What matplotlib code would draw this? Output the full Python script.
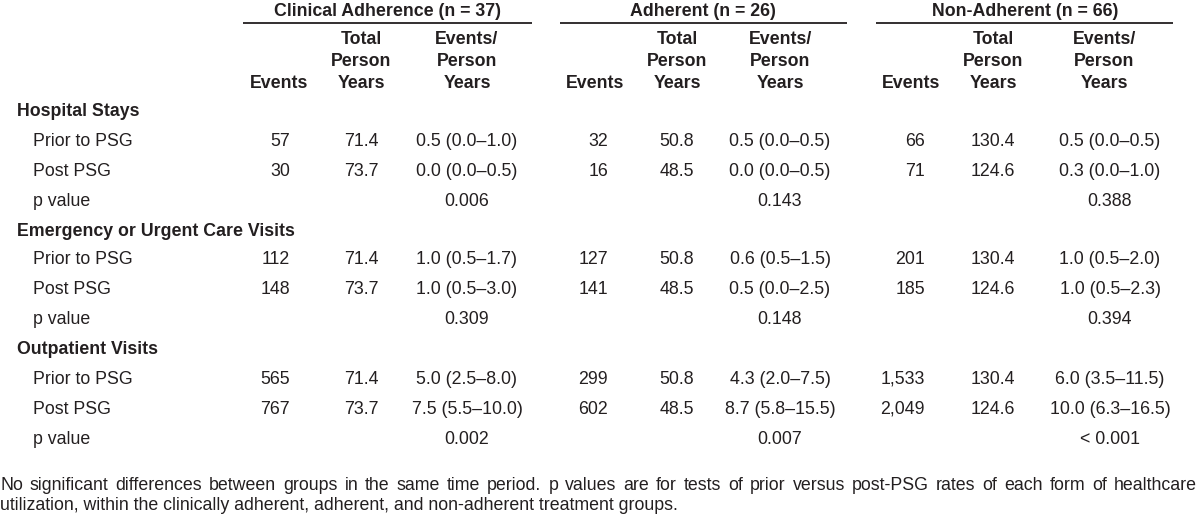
import matplotlib
matplotlib.use('Agg')
import matplotlib.pyplot as plt

# table content
groups = ['Clinical Adherence (n = 37)', 'Adherent (n = 26)', 'Non-Adherent (n = 66)']
sections = ['Hospital Stays', 'Emergency or Urgent Care Visits', 'Outpatient Visits']
sub_rows = ['Prior to PSG', 'Post PSG', 'p value']

clinical_events = [57, 30, 112, 148, 565, 767]
clinical_years = [71.4, 73.7, 71.4, 73.7, 71.4, 73.7]
clinical_rates = ['0.5 (0.0–1.0)', '0.0 (0.0–0.5)', '1.0 (0.5–1.7)',
                  '1.0 (0.5–3.0)', '5.0 (2.5–8.0)', '7.5 (5.5–10.0)']
clinical_p = ['0.006', '0.309', '0.002']

adherent_events = [32, 16, 127, 141, 299, 602]
adherent_years = [50.8, 48.5, 50.8, 48.5, 50.8, 48.5]
adherent_rates = ['0.5 (0.0–0.5)', '0.0 (0.0–0.5)', '0.6 (0.5–1.5)',
                  '0.5 (0.0–2.5)', '4.3 (2.0–7.5)', '8.7 (5.8–15.5)']
adherent_p = ['0.143', '0.148', '0.007']

nonadh_events = [66, 71, 201, 185, 1533, 2049]
nonadh_years = [130.4, 124.6, 130.4, 124.6, 130.4, 124.6]
nonadh_rates = ['0.5 (0.0–0.5)', '0.3 (0.0–1.0)', '1.0 (0.5–2.0)',
                '1.0 (0.5–2.3)', '6.0 (3.5–11.5)', '10.0 (6.3–16.5)']
nonadh_p = ['0.388', '0.394', '< 0.001']

footnote_1 = ('No significant differences between groups in the same time period. '
              'p values are for tests of prior versus post-PSG rates of each form of healthcare')
footnote_2 = ('utilization, within the clinically adherent, adherent, and non-adherent '
              'treatment groups.')

# layout (pixels)
INK = '#231f20'
FS = 12.8
plt.rcParams['font.family'] = ['Liberation Sans', 'DejaVu Sans']

group_data = [
    (clinical_events, clinical_years, clinical_rates, clinical_p),
    (adherent_events, adherent_years, adherent_rates, adherent_p),
    (nonadh_events, nonadh_years, nonadh_rates, nonadh_p),
]
title_x = [387, 703, 1025]
rule_x = [(243, 532), (560, 847), (876, 1173)]
ev_head_x = [308, 624, 940]
ev_x = [290, 608, 925]
yrs_x = [361, 677, 993]
rate_head_x = [467, 780, 1104]
rate_x = [467, 780, 1110]

row_y = [110, 140, 170, 199, 229, 258, 288, 318, 347, 377, 407, 437]
base = 6.5

fig = plt.figure(figsize=(12, 5.21), dpi=100)
ax = fig.add_axes([0, 0, 1, 1])
ax.set_xlim(0, 1200)
ax.set_ylim(521, 0)
ax.axis('off')


def txt(x, y, s, ha='left', bold=False):
    return ax.text(x, y + base, s, ha=ha, va='baseline', fontsize=FS, color=INK,
                   fontweight='bold' if bold else 'normal')


# header
for g in range(3):
    txt(title_x[g], 10, groups[g], ha='center', bold=True)
    ax.plot(rule_x[g], [23, 23], color=INK, lw=1.3, solid_capstyle='butt')
    txt(ev_head_x[g], 81, 'Events', ha='right', bold=True)
    for y, s in zip([38, 60, 81], ['Total', 'Person', 'Years']):
        txt(yrs_x[g], y, s, ha='center', bold=True)
    for y, s in zip([38, 60, 81], ['Events/', 'Person', 'Years']):
        txt(rate_head_x[g], y, s, ha='center', bold=True)

# body
for si, sec in enumerate(sections):
    y0 = row_y[si * 4]
    txt(17, y0, sec, bold=True)
    for ri, lab in enumerate(sub_rows):
        y = row_y[si * 4 + ri + 1]
        txt(33, y, lab)
        for g, (ev, yrs, rates, pv) in enumerate(group_data):
            if ri < 2:
                k = si * 2 + ri
                txt(ev_x[g], y, f'{ev[k]:,}', ha='right')
                txt(yrs_x[g], y, f'{yrs[k]:.1f}', ha='center')
                txt(rate_x[g], y, rates[k], ha='center')
            else:
                txt(rate_x[g], y, pv[si], ha='center')

# footnote, first line justified to the full width
fig.canvas.draw()
renderer = fig.canvas.get_renderer()
words = footnote_1.split(' ')
items = [txt(0, 483, w) for w in words]
widths = [t.get_window_extent(renderer).width for t in items]
gap = (1197 - sum(widths)) / (len(words) - 1)
x = 0
for t, w in zip(items, widths):
    t.set_x(x)
    x += w + gap
txt(0, 503, footnote_2)

fig.savefig('out.png', dpi=100, facecolor='white')
